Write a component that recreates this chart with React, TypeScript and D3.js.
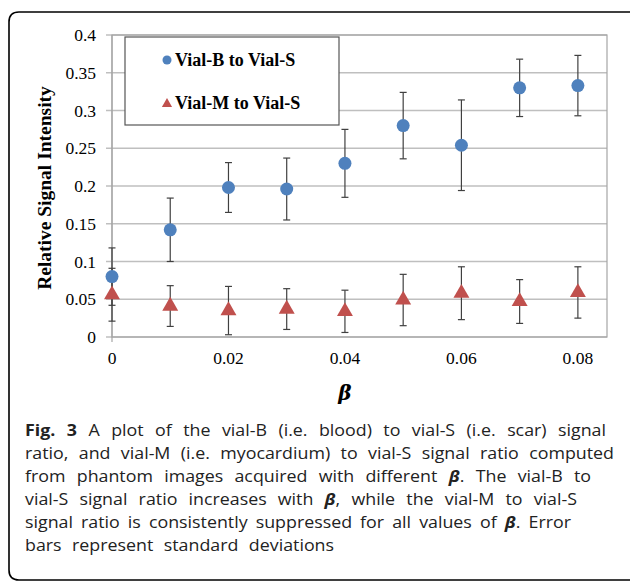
import * as d3 from "d3";
import { useEffect, useRef } from "react";

// значения бета по оси X
const betaValues = [0, 0.01, 0.02, 0.03, 0.04, 0.05, 0.06, 0.07, 0.08];

// Vial-B to Vial-S: среднее и стандартное отклонение
const vialBMeans = [0.08, 0.142, 0.198, 0.196, 0.23, 0.28, 0.254, 0.33, 0.333];
const vialBErrors = [0.038, 0.042, 0.033, 0.041, 0.045, 0.044, 0.06, 0.038, 0.04];

// Vial-M to Vial-S
const vialMMeans = [0.056, 0.041, 0.035, 0.037, 0.034, 0.049, 0.058, 0.047, 0.059];
const vialMErrors = [0.035, 0.027, 0.032, 0.027, 0.028, 0.034, 0.035, 0.029, 0.034];

const yTicks = [0, 0.05, 0.1, 0.15, 0.2, 0.25, 0.3, 0.35, 0.4];
const xTicks = [0, 0.02, 0.04, 0.06, 0.08];

const seriesNames = ["Vial-B to Vial-S", "Vial-M to Vial-S"];

const captionLines = [
    [{ t: "Fig. 3", b: true }, { t: " A plot of the vial-B (i.e. blood) to vial-S (i.e. scar) signal" }],
    [{ t: "ratio, and vial-M (i.e. myocardium) to vial-S signal ratio computed" }],
    [{ t: "from phantom images acquired with different " }, { t: "β", b: true, i: true }, { t: ". The vial-B to" }],
    [{ t: "vial-S signal ratio increases with " }, { t: "β", b: true, i: true }, { t: ", while the vial-M to vial-S" }],
    [{ t: "signal ratio is consistently suppressed for all values of " }, { t: "β", b: true, i: true }, { t: ". Error" }],
    [{ t: "bars represent standard deviations" }]
];
// где кончается каждая строка подписи
const captionLineEnds = [606, 614, 591, 577, 571, 334];

const BLUE = "#4f81bd";
const RED = "#c0504d";
const GRID = "#bfbfbf";

const W = 630;
const H = 582;

const App = () => {
    const svgRef = useRef<SVGSVGElement>(null);

    const margin = { left: 112, top: 35, right: 23, bottom: 245 };
    const boundsWidth = W - margin.left - margin.right;
    const boundsHeight = H - margin.top - margin.bottom;

    useEffect(() => {
        const svg = d3.select(svgRef.current);
        svg.selectAll("*").remove();

        const scaleX = d3.scaleLinear().domain([0, 0.085]).range([0, boundsWidth]);
        const scaleY = d3.scaleLinear().domain([0, 0.4]).range([boundsHeight, 0]);

        // внешняя рамка
        svg.append("path")
            .attr("d", "M 640 12 L 19 12 Q 9 12 9 22 L 9 570 Q 9 580 19 580 L 640 580")
            .attr("fill", "none")
            .attr("stroke", "#000")
            .attr("stroke-width", 1.6);

        const g = svg.append("g").attr("transform", `translate(${margin.left},${margin.top})`);

        // сетка
        g.selectAll("line.grid")
            .data(yTicks)
            .enter()
            .append("line")
            .attr("class", "grid")
            .attr("x1", -6)
            .attr("x2", boundsWidth)
            .attr("y1", d => scaleY(d))
            .attr("y2", d => scaleY(d))
            .attr("stroke", GRID)
            .attr("stroke-width", 1.3);

        // рамка области
        g.append("rect")
            .attr("x", 0)
            .attr("y", 0)
            .attr("width", boundsWidth)
            .attr("height", boundsHeight)
            .attr("fill", "none")
            .attr("stroke", "#a6a6a6")
            .attr("stroke-width", 1.2);

        g.append("line")
            .attr("x1", 0).attr("x2", 0)
            .attr("y1", 0).attr("y2", boundsHeight + 5)
            .attr("stroke", "#a6a6a6").attr("stroke-width", 1.2);

        // подписи оси Y
        g.selectAll("text.ytick")
            .data(yTicks)
            .enter()
            .append("text")
            .attr("class", "ytick")
            .attr("x", -16)
            .attr("y", d => scaleY(d))
            .attr("dy", "0.35em")
            .attr("text-anchor", "end")
            .style("font-family", "'Liberation Serif', serif")
            .style("font-size", "17.5px")
            .text(d => d === 0 ? "0" : String(d));

        // подписи оси X
        g.selectAll("text.xtick")
            .data(xTicks)
            .enter()
            .append("text")
            .attr("class", "xtick")
            .attr("x", d => scaleX(d))
            .attr("y", boundsHeight + 27)
            .attr("text-anchor", "middle")
            .style("font-family", "'Liberation Serif', serif")
            .style("font-size", "17.5px")
            .text(d => d === 0 ? "0" : String(d));

        g.append("text")
            .attr("x", scaleX(0.04))
            .attr("y", boundsHeight + 63)
            .attr("text-anchor", "middle")
            .style("font-family", "'DejaVu Serif', serif")
            .style("font-size", "20px")
            .style("font-weight", "bold")
            .style("font-style", "italic")
            .text("β");

        svg.append("text")
            .attr("transform", `translate(51,188) rotate(-90)`)
            .attr("text-anchor", "middle")
            .style("font-family", "'Liberation Serif', serif")
            .style("font-size", "19.5px")
            .style("font-weight", "bold")
            .text("Relative Signal Intensity");

        // легенда
        g.append("rect")
            .attr("x", 13)
            .attr("y", 2)
            .attr("width", 214)
            .attr("height", 88)
            .attr("fill", "#fff")
            .attr("stroke", "#555")
            .attr("stroke-width", 1.2);

        g.append("circle").attr("cx", 55).attr("cy", 25).attr("r", 4.5).attr("fill", BLUE);
        g.append("path")
            .attr("d", d3.symbol(d3.symbolTriangle, 45)())
            .attr("transform", "translate(55,69)")
            .attr("fill", RED);

        seriesNames.forEach((name, i) => {
            g.append("text")
                .attr("x", 63)
                .attr("y", 25 + i * 43)
                .attr("dy", "0.35em")
                .style("font-family", "'Liberation Serif', serif")
                .style("font-size", "18px")
                .style("font-weight", "bold")
                .text(name);
        });

        // планки погрешностей
        const series = [
            { means: vialBMeans, errors: vialBErrors },
            { means: vialMMeans, errors: vialMErrors }
        ];
        series.forEach((s, si) => {
            const eg = g.append("g").attr("class", "err" + si);
            betaValues.forEach((b, i) => {
                const x = scaleX(b);
                const y1 = scaleY(s.means[i] + s.errors[i]);
                const y2 = scaleY(s.means[i] - s.errors[i]);
                eg.append("line").attr("x1", x).attr("x2", x).attr("y1", y1).attr("y2", y2)
                    .attr("stroke", "#404040").attr("stroke-width", 1.2);
                [y1, y2].forEach(yy => {
                    eg.append("line").attr("x1", x - 3.5).attr("x2", x + 3.5).attr("y1", yy).attr("y2", yy)
                        .attr("stroke", "#404040").attr("stroke-width", 1.2);
                });
            });
        });

        // точки
        g.selectAll("circle.b")
            .data(betaValues)
            .enter()
            .append("circle")
            .attr("class", "b")
            .attr("cx", d => scaleX(d))
            .attr("cy", (d, i) => scaleY(vialBMeans[i]))
            .attr("r", 6.5)
            .attr("fill", BLUE);

        g.selectAll("path.m")
            .data(betaValues)
            .enter()
            .append("path")
            .attr("class", "m")
            .attr("d", d3.symbol(d3.symbolTriangle, 110)())
            .attr("transform", (d, i) => `translate(${scaleX(d)},${scaleY(vialMMeans[i])})`)
            .attr("fill", RED);

        // подпись к рисунку: шрифт в оригинале немного растянут по горизонтали,
        // слова разводим так, чтобы строка кончалась там же, где в оригинале
        const capX = 25;
        const sx = 1.15;
        const cap = svg.append("g").attr("transform", `translate(${capX},0) scale(${sx},1)`);
        captionLines.forEach((line, li) => {
            const t = cap.append("text")
                .attr("x", 0)
                .attr("y", 436 + li * 23)
                .style("font-family", "'Open Sans', sans-serif")
                .style("font-size", "15.5px")
                .style("fill", "#222");
            line.forEach((part: any) => {
                t.append("tspan")
                    .style("font-weight", part.b ? "bold" : "normal")
                    .style("font-style", part.i ? "italic" : "normal")
                    .text(part.t);
            });
            const node = t.node() as SVGTextElement;
            const natural = node.getComputedTextLength();
            const spaces = line.map(p => p.t).join("").split(" ").length - 1;
            const extra = ((captionLineEnds[li] - capX) / sx - natural) / Math.max(spaces, 1);
            t.style("word-spacing", `${Math.max(extra, 0)}px`);
        });
    }, [boundsWidth, boundsHeight]);

    return (
        <svg ref={svgRef} width={W} height={H} style={{ position: "absolute", left: 0, top: 0, background: "#fff" }} />
    );
};

export default App;
